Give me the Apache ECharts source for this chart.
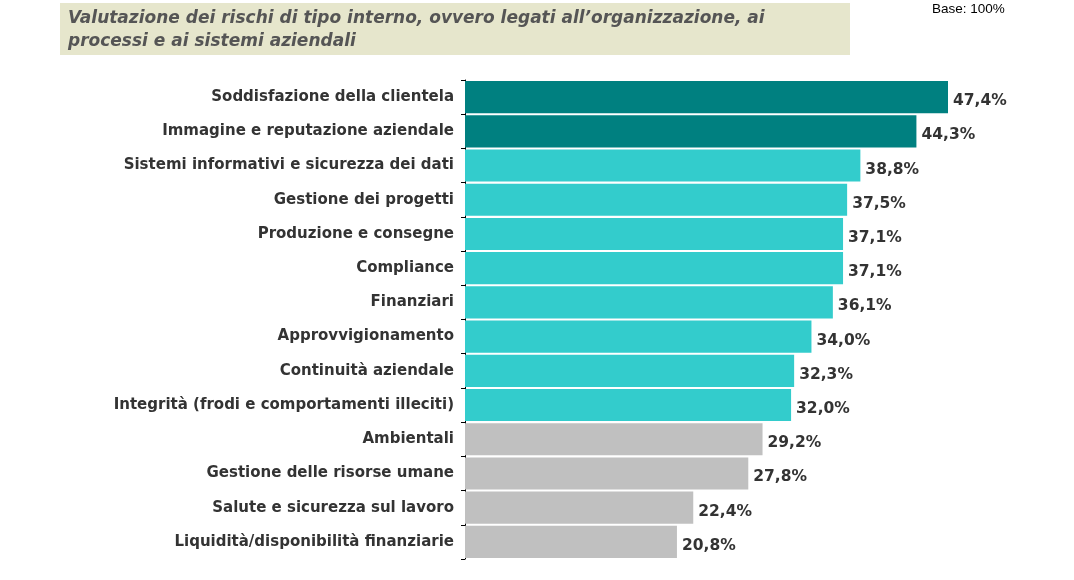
<!DOCTYPE html>
<html><head><meta charset="utf-8">
<script src="https://cdn.jsdelivr.net/npm/echarts@6/dist/echarts.min.js"></script>
<style>html,body{margin:0;padding:0;background:#fff}#c{width:1074px;height:580px}</style>
</head><body><div id="c"></div>
<script>
const categories = [
  "Soddisfazione della clientela",
  "Immagine e reputazione aziendale",
  "Sistemi informativi e sicurezza dei dati",
  "Gestione dei progetti",
  "Produzione e consegne",
  "Compliance",
  "Finanziari",
  "Approvvigionamento",
  "Continuità aziendale",
  "Integrità (frodi e comportamenti illeciti)",
  "Ambientali",
  "Gestione delle risorse umane",
  "Salute e sicurezza sul lavoro",
  "Liquidità/disponibilità finanziarie"
];
const values = [47.4, 44.3, 38.8, 37.5, 37.1, 37.1, 36.1, 34.0, 32.3, 32.0, 29.2, 27.8, 22.4, 20.8];
const groups = ["top","top","mid","mid","mid","mid","mid","mid","mid","mid","low","low","low","low"];
const groupColors = {top:"#008080", mid:"#33CCCC", low:"#C0C0C0"};
const titleText = "Valutazione dei rischi di tipo interno, ovvero legati all\u2019organizzazione, ai\nprocessi e ai sistemi aziendali";
const baseText = "Base: 100%";

const chart = echarts.init(document.getElementById('c'));
chart.setOption({
  animation:false,
  backgroundColor:'#fff',
  graphic:[
    {type:'rect', left:60, top:3, shape:{width:790, height:52}, style:{fill:'#E6E6CC'}},
    {type:'text', left:68, top:7, style:{text:titleText, font:'italic bold 17px "DejaVu Sans"', fill:'#555555', lineHeight:23}},
    {type:'text', left:932, top:2, style:{text:baseText, font:'13.5px "Liberation Sans", Arial', fill:'#000'}}
  ],
  grid:{left:465, right:99.5, top:80, bottom:21},
  xAxis:{type:'value', min:0, max:50, show:false},
  yAxis:{type:'category', data:categories, inverse:true,
    axisLine:{show:true, lineStyle:{color:'#000', width:1}},
    axisTick:{show:true, length:4, lineStyle:{color:'#000'}},
    axisLabel:{margin:11, color:'#333', fontWeight:'bold', fontSize:15, fontFamily:'DejaVu Sans'}
  },
  series:[{
    type:'bar', barCategoryGap:'6%',
    data: values.map((v,i)=>({value:v, itemStyle:{color:groupColors[groups[i]]}})),
    label:{show:true, position:'right', distance:5, offset:[0,4], color:'#333', fontWeight:'bold', fontSize:15.5, fontFamily:'DejaVu Sans',
      formatter:p=>p.value.toFixed(1).replace('.',',')+'%'}
  }]
});
</script></body></html>
